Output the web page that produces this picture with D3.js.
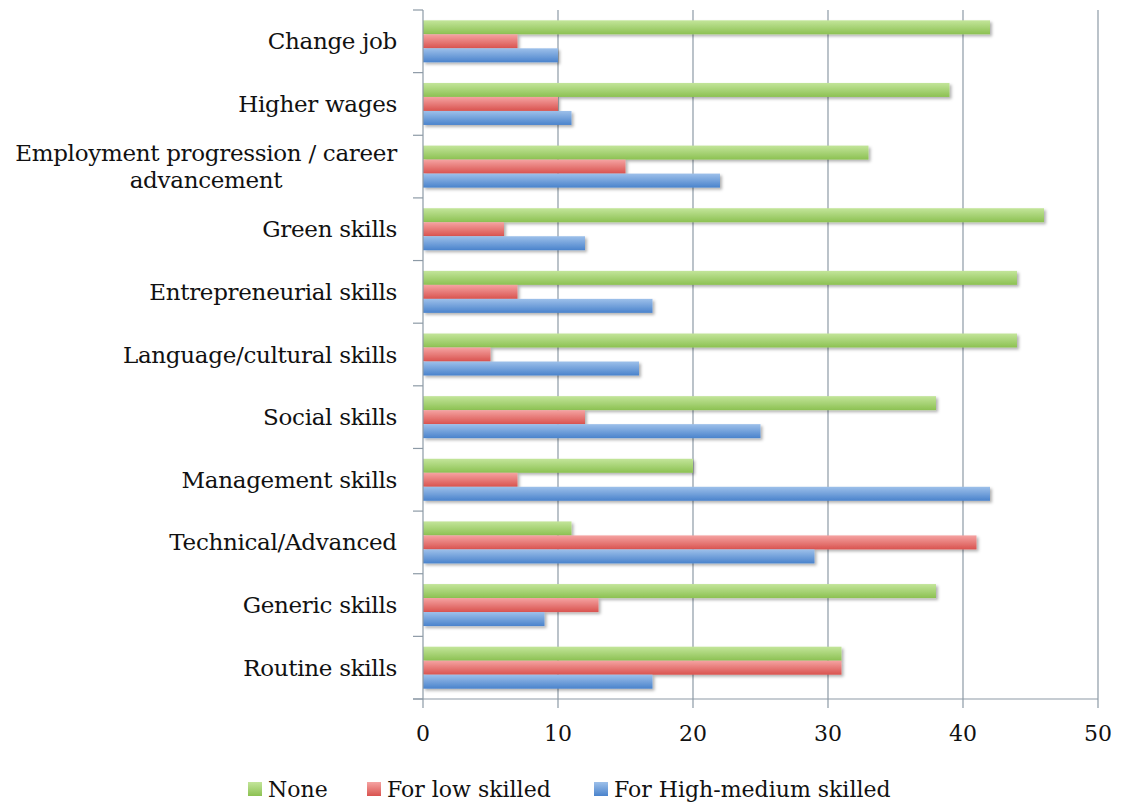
<!DOCTYPE html>
<html>
<head>
<meta charset="utf-8">
<script src="https://cdn.jsdelivr.net/npm/d3@7/dist/d3.min.js"></script>
<style>
  body { margin: 0; background: #fff; }
  svg text { font-family: "DejaVu Serif", "Liberation Serif", serif; fill: #111; }
</style>
</head>
<body>
<div id="chart-area"></div>
<script>
// Categories (top to bottom)
var categories = [
	["Change job"],
	["Higher wages"],
	["Employment progression / career", "advancement"],
	["Green skills"],
	["Entrepreneurial skills"],
	["Language/cultural skills"],
	["Social skills"],
	["Management skills"],
	["Technical/Advanced"],
	["Generic skills"],
	["Routine skills"]
];

// Series values
var noneVals = [42, 39, 33, 46, 44, 44, 38, 20, 11, 38, 31];
var lowVals  = [7, 10, 15, 6, 7, 5, 12, 7, 41, 13, 31];
var highVals = [10, 11, 22, 12, 17, 16, 25, 42, 29, 9, 17];

var seriesNames = ["None", "For low skilled", "For High-medium skilled"];
var xTicks = [0, 10, 20, 30, 40, 50];

// Colors: [light, dark]
var seriesColors = [
	["#c3e59a", "#8cc152"],
	["#f5a3a2", "#d9534f"],
	["#9dc0ea", "#4a83cc"]
];

var canvasWidth = 1122;
var canvasHeight = 803;
var margin = {top: 10, right: 24, bottom: 104, left: 423};
var chartWidth = canvasWidth - margin.left - margin.right;
var chartHeight = canvasHeight - margin.top - margin.bottom;

var canvas = d3.select("#chart-area")
	.append("svg")
	.attr("width", canvasWidth)
	.attr("height", canvasHeight);

// Gradients + shadow
var defs = canvas.append("defs");
seriesColors.forEach(function(c, i){
	var g = defs.append("linearGradient")
		.attr("id", "grad" + i)
		.attr("x1", 0).attr("y1", 0).attr("x2", 0).attr("y2", 1);
	g.append("stop").attr("offset", "0%").attr("stop-color", c[0]);
	g.append("stop").attr("offset", "100%").attr("stop-color", c[1]);
});
var shadow = defs.append("filter").attr("id", "shadow")
	.attr("x", "-5%").attr("y", "-20%").attr("width", "115%").attr("height", "160%");
shadow.append("feDropShadow")
	.attr("dx", 2).attr("dy", 2).attr("stdDeviation", 1.5)
	.attr("flood-color", "#000").attr("flood-opacity", 0.3);

var chartArea = canvas.append("g")
	.attr("transform", "translate(" + margin.left + "," + margin.top + ")");

// Scales
var x = d3.scaleLinear()
	.domain([0, 50])
	.range([0, chartWidth]);

var y = d3.scaleBand()
	.domain(d3.range(categories.length))
	.range([0, chartHeight])
	.paddingInner(0)
	.paddingOuter(0);

var barH = 14;
var groupOff = (y.bandwidth() - 3 * barH) / 2;

// Gridlines
chartArea.selectAll(".grid")
	.data(xTicks.slice(1))
	.enter().append("line")
	.attr("x1", function(d){ return x(d); })
	.attr("x2", function(d){ return x(d); })
	.attr("y1", 0)
	.attr("y2", chartHeight)
	.attr("stroke", "#8d9aa6")
	.attr("stroke-width", 1.2);

// Bars
var series = [noneVals, lowVals, highVals];
series.forEach(function(vals, s){
	chartArea.selectAll(".bar" + s)
		.data(vals)
		.enter().append("rect")
		.attr("x", 0)
		.attr("y", function(d, i){ return y(i) + groupOff + s * barH; })
		.attr("width", function(d){ return x(d); })
		.attr("height", barH)
		.attr("fill", "url(#grad" + s + ")")
		.attr("filter", "url(#shadow)");
});

// Y axis
var axisColor = "#8d9aa6";
var yAxis = chartArea.append("g");
yAxis.append("line")
	.attr("x1", 0).attr("x2", 0)
	.attr("y1", 0).attr("y2", chartHeight)
	.attr("stroke", axisColor).attr("stroke-width", 1.2);
yAxis.selectAll(".ytick")
	.data(d3.range(categories.length + 1))
	.enter().append("line")
	.attr("x1", -10).attr("x2", 0)
	.attr("y1", function(d){ return d * y.step(); })
	.attr("y2", function(d){ return d * y.step(); })
	.attr("stroke", axisColor).attr("stroke-width", 1.2);

// Category labels
chartArea.selectAll(".ylabel")
	.data(categories)
	.enter().append("text")
	.attr("text-anchor", "middle")
	.attr("font-size", "23px")
	.attr("letter-spacing", "-0.3px")
	.each(function(d, i){
		var t = d3.select(this);
		var cy = y(i) + y.bandwidth() / 2;
		var lines = d;
		lines.forEach(function(l, k){
			t.append("tspan")
				.attr("x", 0)
				.attr("y", cy + 8 + (k - (lines.length - 1) / 2) * 27)
				.text(l);
		});
		var w = this.getBBox().width;
		t.selectAll("tspan").attr("x", -26 - w / 2);
	});

// X axis
var xAxisG = chartArea.append("g")
	.attr("transform", "translate(0," + chartHeight + ")");
xAxisG.append("line")
	.attr("x1", -10).attr("x2", chartWidth)
	.attr("y1", 0).attr("y2", 0)
	.attr("stroke", axisColor).attr("stroke-width", 1.2);
xAxisG.selectAll(".xtick")
	.data(xTicks)
	.enter().append("line")
	.attr("x1", function(d){ return x(d); })
	.attr("x2", function(d){ return x(d); })
	.attr("y1", 0).attr("y2", 9)
	.attr("stroke", axisColor).attr("stroke-width", 1.2);
xAxisG.selectAll(".xlabel")
	.data(xTicks)
	.enter().append("text")
	.attr("x", function(d){ return x(d); })
	.attr("y", 42)
	.attr("text-anchor", "middle")
	.attr("font-size", "22px")
	.text(function(d){ return d; });

// Legend
var legend = canvas.append("g")
	.attr("transform", "translate(248, 797)");
var legendX = [0, 119, 346];
seriesNames.forEach(function(name, i){
	var row = legend.append("g")
		.attr("transform", "translate(" + legendX[i] + ",0)");
	row.append("rect")
		.attr("x", 0).attr("y", -15)
		.attr("width", 14).attr("height", 14)
		.attr("fill", "url(#grad" + i + ")");
	row.append("text")
		.attr("x", 20).attr("y", 0)
		.attr("font-size", "22px")
		.text(name);
});
</script>
</body>
</html>
